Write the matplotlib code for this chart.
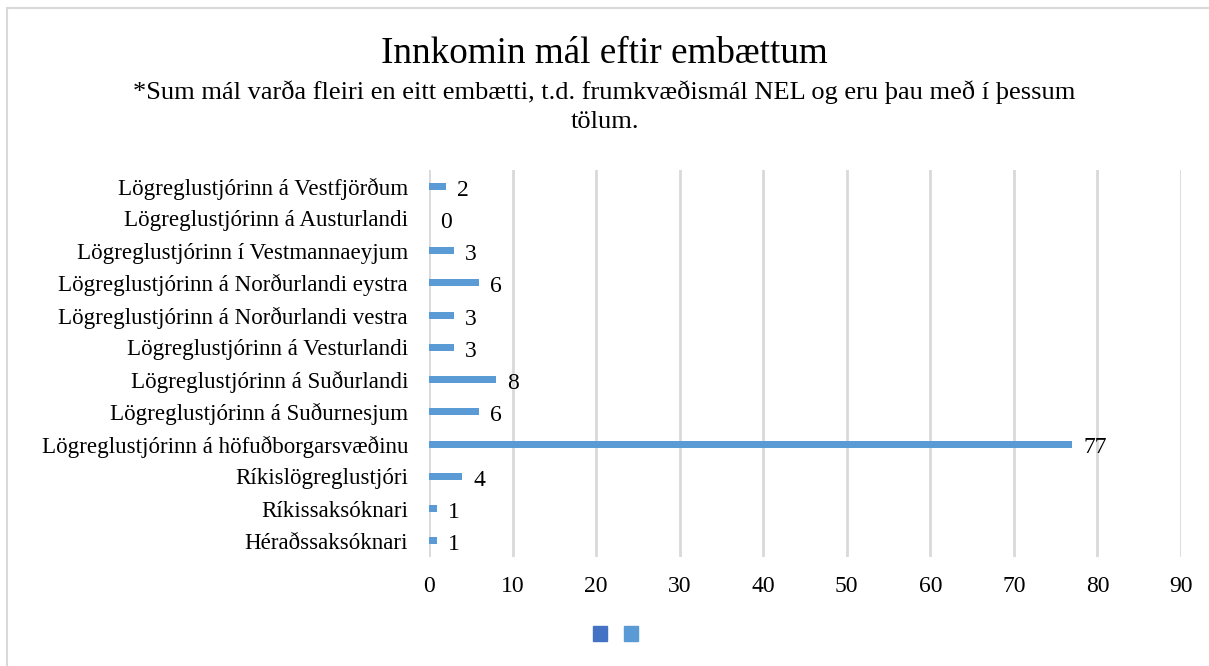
import matplotlib.pyplot as plt
from matplotlib.patches import Patch, Rectangle
import numpy as np

plt.rcParams['font.family'] = ['Liberation Serif', 'DejaVu Serif']

categories = ['Héraðssaksóknari', 'Ríkissaksóknari', 'Ríkislögreglustjóri',
              'Lögreglustjórinn á höfuðborgarsvæðinu', 'Lögreglustjórinn á Suðurnesjum',
              'Lögreglustjórinn á Suðurlandi', 'Lögreglustjórinn á Vesturlandi',
              'Lögreglustjórinn á Norðurlandi vestra', 'Lögreglustjórinn á Norðurlandi eystra',
              'Lögreglustjórinn í Vestmannaeyjum', 'Lögreglustjórinn á Austurlandi',
              'Lögreglustjórinn á Vestfjörðum']
values = [1, 1, 4, 77, 6, 8, 3, 3, 6, 3, 0, 2]
xticks = [0, 10, 20, 30, 40, 50, 60, 70, 80, 90]

fig = plt.figure(figsize=(12.09, 6.66), dpi=100)
ax = fig.add_axes([0.3548, 0.1637, 0.622, 0.581])

y = np.arange(len(categories))
ax.barh(y, values, height=0.22, color='#5B9BD5', zorder=3)
for yi, v in zip(y, values):
    ax.text(v + 1.3, yi - 0.12, str(v), va='center', ha='left', fontsize=17)

ax.set_xlim(0, 90)
ax.set_ylim(-0.5, len(categories) - 0.5)
ax.set_yticks(y)
ax.set_yticklabels(categories, fontsize=16.6)
ax.set_xticks(xticks)
ax.set_xticklabels([str(t) for t in xticks], fontsize=17)
ax.tick_params(length=0)
ax.tick_params(axis='y', pad=15)
ax.tick_params(axis='x', pad=14)
ax.grid(axis='x', color='#D9D9D9', linewidth=2, zorder=0)
for s in ax.spines.values():
    s.set_visible(False)

fig.text(0.5, 0.92, 'Innkomin mál eftir embættum', ha='center', va='center', fontsize=26.7)
fig.text(0.5, 0.84, '*Sum mál varða fleiri en eitt embætti, t.d. frumkvæðismál NEL og eru þau með í þessum\ntölum.',
         ha='center', va='center', fontsize=19, linespacing=1.4)

handles = [Patch(color='#4472C4'), Patch(color='#5B9BD5')]
fig.legend(handles, ['', ''], loc='center', bbox_to_anchor=(0.509, 0.045), ncol=2,
           frameon=False, fontsize=17, handlelength=0.6, handleheight=0.6,
           columnspacing=0.7, handletextpad=0.0)

fig.patches.append(Rectangle((0.006, -0.01), 1.1, 0.998, transform=fig.transFigure,
                             fill=False, edgecolor='#D9D9D9', linewidth=1.5))

fig.savefig('out.png', dpi=100)
